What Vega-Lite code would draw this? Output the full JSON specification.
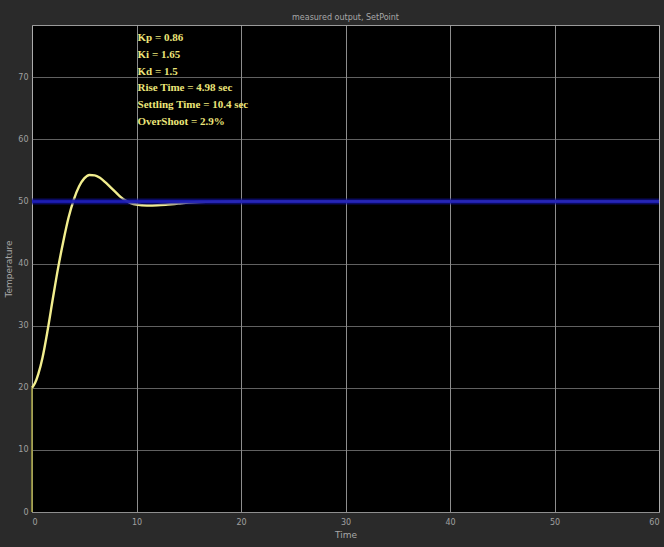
{
  "$schema": "https://vega.github.io/schema/vega-lite/v6.json",
  "width": 627,
  "height": 487,
  "autosize": {"type": "none"},
  "padding": {"left": 32, "top": 25, "right": 5, "bottom": 35},
  "background": "#2a2a2a",
  "title": {"text": "measured output, SetPoint", "fontSize": 8, "font": "DejaVu Sans", "fontWeight": "normal", "color": "#a8a8a8", "offset": 3, "anchor": "middle"},
  "config": {
    "view": {"fill": "#000000", "stroke": "#9a9a9a", "strokeWidth": 1},
    "axis": {"labelColor": "#a0a0a0", "labelFontSize": 8, "labelFont": "DejaVu Sans", "titleColor": "#a8a8a8", "titleFont": "DejaVu Sans", "titleFontSize": 9, "titleFontWeight": "normal", "domain": false, "ticks": false}
  },
  "datasets": {
    "jump": [{"t": 0, "v": 0}, {"t": 0, "v": 20}],
    "measured": [
      {"t": 0, "v": 20}, {"t": 0.3, "v": 20.8}, {"t": 0.6, "v": 22.2}, {"t": 1, "v": 24.8},
      {"t": 1.5, "v": 29.3}, {"t": 2, "v": 34.4}, {"t": 2.5, "v": 39.3}, {"t": 3, "v": 43.6}, {"t": 3.5, "v": 47.4},
      {"t": 4, "v": 50.3}, {"t": 4.5, "v": 52.4}, {"t": 5, "v": 53.7}, {"t": 5.5, "v": 54.25}, {"t": 6, "v": 54.2},
      {"t": 6.5, "v": 53.8}, {"t": 7, "v": 53.1}, {"t": 7.5, "v": 52.3}, {"t": 8, "v": 51.5}, {"t": 8.5, "v": 50.7},
      {"t": 9, "v": 50.1}, {"t": 9.5, "v": 49.7}, {"t": 10, "v": 49.5}, {"t": 11, "v": 49.35}, {"t": 12, "v": 49.38},
      {"t": 13, "v": 49.5}, {"t": 14, "v": 49.65}, {"t": 15, "v": 49.8}, {"t": 16, "v": 49.9}, {"t": 18, "v": 49.97},
      {"t": 20, "v": 50}, {"t": 60, "v": 50}
    ],
    "setpoint": [{"t": 0, "v": 50}, {"t": 60, "v": 50}],
    "notes": [
      {"t": 10.1, "v": 76.3, "label": "Kp = 0.86"},
      {"t": 10.1, "v": 73.6, "label": "Ki = 1.65"},
      {"t": 10.1, "v": 70.9, "label": "Kd = 1.5"},
      {"t": 10.1, "v": 68.2, "label": "Rise Time = 4.98 sec"},
      {"t": 10.1, "v": 65.5, "label": "Settling Time = 10.4 sec"},
      {"t": 10.1, "v": 62.8, "label": "OverShoot = 2.9%"}
    ]
  },
  "encoding": {
    "x": {"field": "t", "type": "quantitative", "scale": {"domain": [0, 60], "nice": false}, "axis": {"title": "Time", "values": [0, 10, 20, 30, 40, 50, 60], "gridColor": "#b0b0b0", "gridOpacity": 0.8, "labelPadding": 6, "titlePadding": 4}},
    "y": {"field": "v", "type": "quantitative", "scale": {"domain": [0, 78.4], "nice": false}, "axis": {"title": "Temperature", "values": [0, 10, 20, 30, 40, 50, 60, 70], "gridColor": "#8a8a8a", "gridOpacity": 0.7, "labelPadding": 4, "titlePadding": 4}}
  },
  "layer": [
    {"data": {"name": "jump"}, "mark": {"type": "line", "color": "#a4a044", "strokeWidth": 1.6}},
    {"data": {"name": "measured"}, "mark": {"type": "line", "color": "#f2ee8e", "strokeWidth": 2.4, "interpolate": "monotone"}},
    {"data": {"name": "setpoint"}, "mark": {"type": "line", "color": "#1010a0", "strokeWidth": 6, "opacity": 0.6}},
    {"data": {"name": "setpoint"}, "mark": {"type": "line", "color": "#1c1cb8", "strokeWidth": 3, "opacity": 0.85}},
    {"data": {"name": "notes"}, "mark": {"type": "text", "align": "left", "baseline": "middle", "font": "Liberation Serif", "fontWeight": "bold", "fontSize": 11, "color": "#ece67a"}, "encoding": {"text": {"field": "label"}}}
  ]
}
